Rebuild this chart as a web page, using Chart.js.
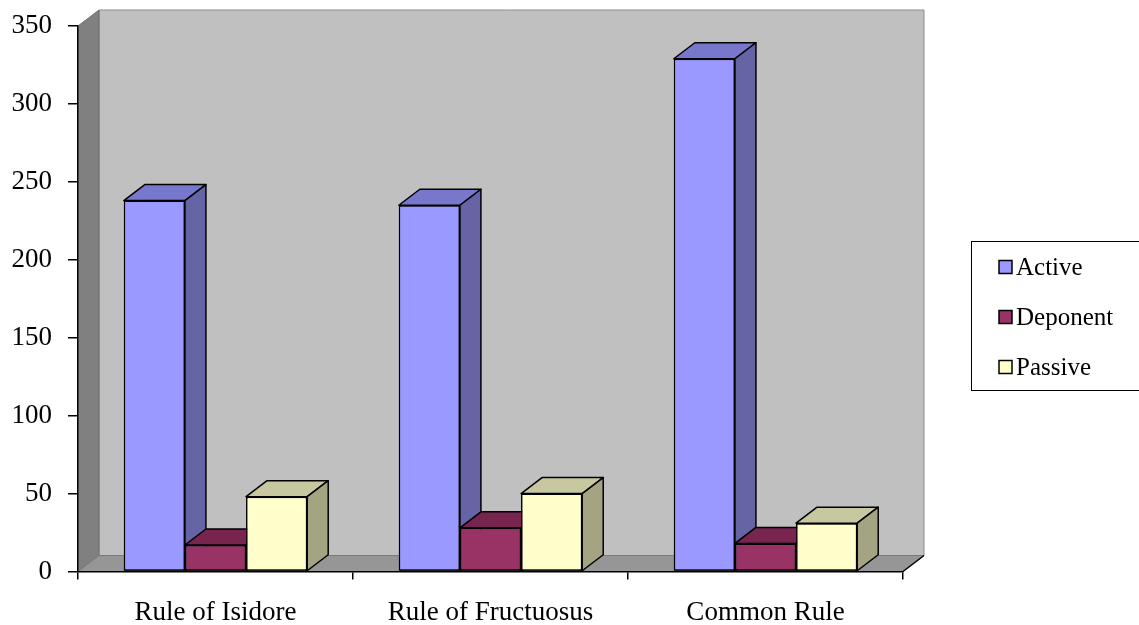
<!DOCTYPE html>
<html>
<head>
<meta charset="utf-8">
<script src="https://cdn.jsdelivr.net/npm/chart.js@4/dist/chart.umd.min.js"></script>
<style>
  html, body { margin: 0; padding: 0; background: #fff; }
  #wrap { width: 1139px; height: 625px; position: relative; }
</style>
</head>
<body>
<div id="wrap"><canvas id="chart"></canvas></div>
<script>
// data
const categories = ['Rule of Isidore', 'Rule of Fructuosus', 'Common Rule'];
const activeValues = [238, 235, 329];
const deponentValues = [17, 28, 18];
const passiveValues = [48, 50, 31];
const yTicks = [0, 50, 100, 150, 200, 250, 300, 350];

// depth of the fake 3D look
const DX = 21;
const DY = 16;
const SERIF = '"Liberation Serif", "Times New Roman", serif';

function poly(ctx, pts, fill, stroke, lw) {
  ctx.beginPath();
  ctx.moveTo(pts[0][0], pts[0][1]);
  for (let i = 1; i < pts.length; i++) ctx.lineTo(pts[i][0], pts[i][1]);
  ctx.closePath();
  if (fill) { ctx.fillStyle = fill; ctx.fill(); }
  if (stroke) { ctx.strokeStyle = stroke; ctx.lineWidth = lw || 1; ctx.stroke(); }
}

// walls and floor, drawn before the axes
const wallsPlugin = {
  id: 'walls',
  beforeDraw(chart) {
    const { ctx, chartArea: a } = chart;
    ctx.save();
    poly(ctx, [[a.left + DX, a.top - DY], [a.right + DX, a.top - DY], [a.right + DX, a.bottom - DY], [a.left + DX, a.bottom - DY]], '#C0C0C0', '#8c8c8c', 1);
    poly(ctx, [[a.left, a.top], [a.left + DX, a.top - DY], [a.left + DX, a.bottom - DY], [a.left, a.bottom]], '#808080', '#6e6e6e', 1);
    poly(ctx, [[a.left, a.bottom], [a.left + DX, a.bottom - DY], [a.right + DX, a.bottom - DY], [a.right, a.bottom]], '#969696', '#7a7a7a', 1);
    // little edge at the right end of the floor
    ctx.beginPath();
    ctx.moveTo(a.right, a.bottom);
    ctx.lineTo(a.right + DX, a.bottom - DY);
    ctx.strokeStyle = '#000';
    ctx.lineWidth = 1.5;
    ctx.stroke();
    ctx.restore();
  }
};

// Chart.js paints the first dataset last, so repaint left to right:
// front face, then top, then side, so the next bar covers the side
const boxPlugin = {
  id: 'box3d',
  afterDatasetsDraw(chart) {
    const ctx = chart.ctx;
    ctx.save();
    ctx.lineJoin = 'round';
    chart.data.datasets.forEach((ds, i) => {
      const meta = chart.getDatasetMeta(i);
      meta.data.forEach(el => {
        el.draw(ctx);
        const p = el.getProps(['x', 'y', 'base', 'width'], true);
        const l = p.x - p.width / 2, r = p.x + p.width / 2;
        poly(ctx, [[l, p.y], [l + DX, p.y - DY], [r + DX, p.y - DY], [r, p.y]], ds.topColor, '#000', 1.5);
        poly(ctx, [[r, p.y], [r + DX, p.y - DY], [r + DX, p.base - DY], [r, p.base]], ds.sideColor, '#000', 1.5);
      });
    });
    ctx.restore();
  }
};

// framed legend on the right
const legendBoxPlugin = {
  id: 'legendBox',
  afterDraw(chart) {
    const ctx = chart.ctx;
    ctx.save();
    ctx.strokeStyle = '#000';
    ctx.lineWidth = 1;
    ctx.strokeRect(971.5, 241.5, 200, 149);
    ctx.font = '25px ' + SERIF;
    ctx.textBaseline = 'middle';
    chart.data.datasets.forEach((ds, i) => {
      const cy = 267 + i * 50;
      ctx.fillStyle = ds.backgroundColor;
      ctx.fillRect(999, cy - 6.5, 13, 13);
      ctx.lineWidth = 1.5;
      ctx.strokeStyle = '#000';
      ctx.strokeRect(999, cy - 6.5, 13, 13);
      ctx.fillStyle = '#000';
      ctx.fillText(ds.label, 1016, cy + 1);
    });
    ctx.restore();
  }
};

new Chart(document.getElementById('chart').getContext('2d'), {
  type: 'bar',
  data: {
    labels: categories,
    datasets: [
      { label: 'Active', data: activeValues, backgroundColor: '#9999FF', topColor: '#7777CC', sideColor: '#6565A6' },
      { label: 'Deponent', data: deponentValues, backgroundColor: '#993366', topColor: '#77244F', sideColor: '#6B2148' },
      { label: 'Passive', data: passiveValues, backgroundColor: '#FFFFCC', topColor: '#C8C8A0', sideColor: '#A4A482' }
    ]
  },
  options: {
    responsive: true,
    maintainAspectRatio: false,
    animation: false,
    layout: { padding: { left: 0, right: 236, top: 26, bottom: 0 } },
    datasets: {
      bar: {
        borderColor: '#000',
        borderWidth: 1.5,
        borderSkipped: false,
        barPercentage: 1,
        categoryPercentage: 0.667
      }
    },
    scales: {
      x: {
        offset: true,
        grid: { offset: true, drawOnChartArea: false, drawTicks: true, tickLength: 8, color: '#000', lineWidth: 1.5 },
        border: { display: true, color: '#000', width: 1.5 },
        ticks: { color: '#000', padding: 17, font: { family: SERIF, size: 27 }, maxRotation: 0 },
        afterFit(scale) { scale.height = 53.5; }
      },
      y: {
        min: 0,
        max: 350,
        afterBuildTicks(scale) { scale.ticks = yTicks.map(v => ({ value: v })); },
        grid: { drawOnChartArea: false, drawTicks: true, tickLength: 10, color: '#000', lineWidth: 1.5 },
        border: { display: true, color: '#000', width: 1.5 },
        ticks: { color: '#000', padding: 16, font: { family: SERIF, size: 27 } },
        afterFit(scale) {
          scale.width = 78;
          scale.paddingTop = 0;
          scale.paddingBottom = 0;
        }
      }
    },
    plugins: {
      legend: { display: false },
      tooltip: { enabled: false }
    }
  },
  plugins: [wallsPlugin, boxPlugin, legendBoxPlugin]
});
</script>
</body>
</html>
